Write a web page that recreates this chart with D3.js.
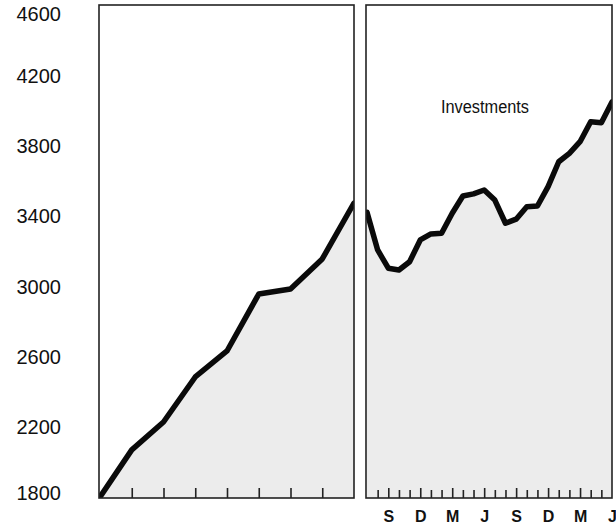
<!DOCTYPE html>
<html>
<head>
<meta charset="utf-8">
<script src="https://cdn.jsdelivr.net/npm/d3@7"></script>
<style>
  html, body { margin: 0; padding: 0; background: #fff; }
  svg { display: block; }
</style>
</head>
<body>
<svg id="chart" width="616" height="525"></svg>
<script>
// ---- data ----
const yTicks = [1800, 2200, 2600, 3000, 3400, 3800, 4200, 4600];
// left panel: annual values (9 points, 8 intervals)
const annualIndex = [0, 1, 2, 3, 4, 5, 6, 7, 8];
const annualValues = [1800, 2068, 2227, 2483, 2631, 2955, 2984, 3155, 3473];
// right panel: monthly values, July (year 1) through June (year 3)
const monthIndex = d3.range(24);
const monthlyValues = [3420, 3206, 3102, 3092, 3139, 3263, 3297, 3301, 3415, 3513, 3525, 3547,
                       3490, 3358, 3381, 3452, 3456, 3566, 3708, 3756, 3822, 3936, 3930, 4048];
const monthLabelIndex = [2, 5, 8, 11, 14, 17, 20, 23];
const monthLabels = ["S", "D", "M", "J", "S", "D", "M", "J"];
const seriesLabel = "Investments";

// ---- layout ----
const svg = d3.select("#chart");
const frameTop = 5, frameBottom = 498;
const y = d3.scaleLinear().domain([1800, 4600]).range([497, 5]);

const leftPanel = { x0: 99, x1: 354 };
const rightPanel = { x0: 366, x1: 612 };

const xL = d3.scaleLinear().domain([0, 8]).range([100, 354]);
const xR = d3.scaleLinear().domain([0, 23]).range([367, 612]);

const fillColor = "#ececec";

function drawPanel(p, xs, idx, vals, clipId) {
  svg.append("clipPath").attr("id", clipId)
    .append("rect").attr("x", p.x0).attr("y", frameTop).attr("width", p.x1 - p.x0).attr("height", frameBottom - frameTop);
  const g = svg.append("g").attr("clip-path", `url(#${clipId})`);
  const pts = idx.map((d, i) => [xs(d), y(vals[i])]);
  g.append("path")
    .attr("d", d3.area().x(d => d[0]).y0(frameBottom).y1(d => d[1])(pts))
    .attr("fill", fillColor);
  g.append("path")
    .attr("d", d3.line()(pts))
    .attr("fill", "none").attr("stroke", "#0a0a0a")
    .attr("stroke-width", 5.5).attr("stroke-linejoin", "round").attr("stroke-linecap", "round");
  svg.append("rect")
    .attr("x", p.x0).attr("y", frameTop).attr("width", p.x1 - p.x0).attr("height", frameBottom - frameTop)
    .attr("fill", "none").attr("stroke", "#222").attr("stroke-width", 1.6);
}

drawPanel(leftPanel, xL, annualIndex, annualValues, "clipL");
drawPanel(rightPanel, xR, monthIndex, monthlyValues, "clipR");

// left panel ticks (annual), inward from bottom
svg.append("g").attr("transform", `translate(0,${frameBottom})`)
  .call(d3.axisTop(xL).tickValues(d3.range(1, 8)).tickSize(10).tickFormat(""))
  .call(g => g.select(".domain").remove())
  .call(g => g.selectAll("line").attr("stroke", "#222").attr("stroke-width", 1.6));

// right panel ticks (monthly)
svg.append("g").attr("transform", `translate(0,${frameBottom})`)
  .call(d3.axisTop(xR).tickValues(d3.range(1, 23)).tickSize(8).tickFormat(""))
  .call(g => g.select(".domain").remove())
  .call(g => g.selectAll("line").attr("stroke", "#222").attr("stroke-width", 1.6)
     .attr("y2", d => monthLabelIndex.includes(d) ? -10 : -8));

// month labels
svg.append("g").attr("transform", `translate(0,${frameBottom})`)
  .call(d3.axisBottom(xR).tickValues(monthLabelIndex).tickSize(0)
        .tickFormat((d) => monthLabels[monthLabelIndex.indexOf(d)]))
  .call(g => g.select(".domain").remove())
  .call(g => g.selectAll("text")
     .attr("y", 19).attr("dy", "0.32em")
     .attr("font-family", "'Liberation Sans Narrow', 'Liberation Sans', Arial, sans-serif")
     .attr("font-weight", "bold").attr("font-size", 16).attr("fill", "#111"));

// y axis labels
svg.append("g").attr("transform", "translate(61,0)")
  .call(d3.axisLeft(y).tickValues(yTicks).tickSize(0).tickPadding(0).tickFormat(d3.format("d")))
  .call(g => g.select(".domain").remove())
  .call(g => g.selectAll("text")
     .attr("font-family", "'Liberation Sans', Arial, sans-serif")
     .attr("font-size", 20).attr("fill", "#111")
     .attr("dy", d => d === 4600 ? "0.75em" : d === 1800 ? "0.1em" : "0.35em"));

// series label
svg.append("text")
  .attr("x", 441).attr("y", y(3985))
  .attr("textLength", 88).attr("lengthAdjust", "spacingAndGlyphs")
  .attr("font-family", "'Liberation Sans', Arial, sans-serif")
  .attr("font-size", 18).attr("fill", "#111")
  .text(seriesLabel);
</script>
</body>
</html>
